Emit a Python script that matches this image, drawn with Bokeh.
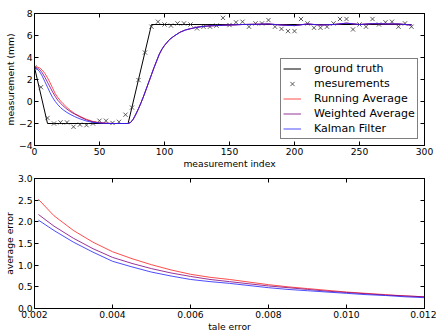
from bokeh.plotting import figure
from bokeh.layouts import column
from bokeh.models import (LinearAxis, FixedTicker, Legend, LegendItem,
                          NumeralTickFormatter, CustomJSTickFormatter)
from bokeh.embed import file_html
from bokeh.resources import INLINE

# ---------------- data: top panel ----------------
gt_idx = [0, 10, 72, 90, 290]
gt_val = [3.1, -2.0, -2.0, 7.0, 7.0]

meas_idx = [0, 5, 10, 15, 20, 25, 30, 35, 40, 45, 50, 55, 60, 65, 70, 75, 80, 85, 90,
            95, 100, 105, 110, 115, 120, 125, 130, 135, 140, 145, 150, 155, 160, 165,
            170, 175, 180, 185, 190, 195, 200, 205, 210, 215, 220, 225, 230, 235, 240,
            245, 250, 255, 260, 265, 270, 275, 280, 285, 290]
meas_val = [3.1, 1.3, -1.5, -2.0, -1.9, -1.9, -2.3, -2.1, -2.15, -2.0, -1.75, -1.75,
            -1.95, -1.85, -1.2, -0.55, 1.95, 4.45, 6.8, 7.25, 7.0, 6.9, 7.1, 7.1, 7.0,
            6.65, 6.8, 6.8, 6.9, 7.6, 6.95, 7.2, 7.25, 6.8, 7.1, 7.1, 7.4, 6.8, 6.6,
            6.4, 6.4, 7.5, 7.1, 6.7, 6.7, 6.8, 7.1, 7.5, 7.5, 6.55, 7.0, 6.8, 7.5, 7.0,
            7.2, 7.25, 6.8, 7.1, 6.8]

f_idx = [0, 2, 4, 6, 8, 10, 12, 14, 16, 18, 20, 22, 25, 28, 31, 35, 40, 45, 50, 55,
         60, 65, 70, 72, 74, 76, 78, 80, 82, 84, 86, 88, 90, 92, 94, 96, 98, 100, 104,
         108, 112, 116, 120, 125, 130, 135, 140, 145, 150, 160, 170, 180, 190, 200,
         210, 220, 230, 240, 250, 260, 270, 280, 290]
rise = [-2.0, -1.9, -1.6, -1.15, -0.65, -0.1, 0.5, 1.15, 1.8, 2.45, 3.1, 3.7, 4.3,
        4.75, 5.1, 5.65, 6.0, 6.3, 6.5, 6.62, 6.75, 6.83, 6.88, 6.9, 6.93, 6.95, 7.0,
        7.02, 7.05, 6.95, 6.9, 7.05, 6.95, 7.0, 7.12, 7.0, 7.08, 7.05, 7.05, 6.95]
running_avg = [3.1, 3.15, 3.05, 2.85, 2.55, 2.15, 1.7, 1.2, 0.7, 0.35, 0.05, -0.2,
               -0.55, -0.85, -1.1, -1.35, -1.62, -1.82, -1.92, -1.97, -2.0, -2.0,
               -2.0] + rise
weighted_avg = [3.1, 3.05, 2.9, 2.6, 2.2, 1.75, 1.3, 0.85, 0.45, 0.1, -0.15, -0.4,
                -0.7, -0.95, -1.15, -1.4, -1.68, -1.85, -1.95, -1.98, -2.0, -2.0,
                -2.0] + rise
kalman = [3.05, 2.95, 2.7, 2.3, 1.8, 1.3, 0.8, 0.35, 0.0, -0.3, -0.55, -0.75, -1.0,
          -1.2, -1.38, -1.58, -1.78, -1.9, -1.96, -1.99, -2.0, -2.0, -2.0] + rise

# ---------------- data: bottom panel ----------------
tale_err = [0.0021, 0.0025, 0.003, 0.0035, 0.004, 0.0045, 0.005, 0.0055, 0.006,
            0.0065, 0.007, 0.0075, 0.008, 0.0085, 0.009, 0.0095, 0.010, 0.0105,
            0.011, 0.0115, 0.012]
err_running = [2.52, 2.14, 1.80, 1.53, 1.31, 1.15, 1.01, 0.89, 0.79, 0.72, 0.67,
               0.61, 0.55, 0.50, 0.46, 0.42, 0.38, 0.35, 0.32, 0.29, 0.27]
err_weighted = [2.17, 1.90, 1.62, 1.38, 1.18, 1.04, 0.92, 0.82, 0.74, 0.67, 0.62,
                0.57, 0.52, 0.48, 0.44, 0.40, 0.37, 0.34, 0.31, 0.29, 0.27]
err_kalman = [2.04, 1.80, 1.53, 1.30, 1.09, 0.96, 0.84, 0.75, 0.67, 0.62, 0.58,
              0.53, 0.48, 0.44, 0.41, 0.38, 0.35, 0.32, 0.30, 0.27, 0.25]

top_xticks = [0, 50, 100, 150, 200, 250, 300]
top_yticks = [-4, -2, 0, 2, 4, 6, 8]
bot_xticks = [0.002, 0.004, 0.006, 0.008, 0.010, 0.012]
bot_yticks = [0.0, 0.5, 1.0, 1.5, 2.0, 2.5, 3.0]

RED, PURPLE, BLUE = "#ff2020", "#800080", "#2020ff"
FONT = "DejaVu Sans"
TICK_FS = "9.2px"


def style(p, xticks, yticks):
    p.grid.visible = False
    p.outline_line_color = "black"
    p.outline_line_width = 1
    p.background_fill_color = "white"
    p.border_fill_color = None
    xa = p.below[0]
    ya = p.left[0]
    xa.ticker = FixedTicker(ticks=xticks)
    ya.ticker = FixedTicker(ticks=yticks)
    blank = CustomJSTickFormatter(code="return ''")
    p.add_layout(LinearAxis(ticker=FixedTicker(ticks=yticks), formatter=blank), "right")
    p.add_layout(LinearAxis(ticker=FixedTicker(ticks=xticks), formatter=blank), "above")
    for ax in p.axis:
        ax.major_tick_in = 4
        ax.major_tick_out = 0
        ax.minor_tick_in = 0
        ax.minor_tick_out = 0
        ax.axis_line_color = "black"
        ax.major_tick_line_color = "black"
        ax.major_label_text_font = FONT
        ax.major_label_text_font_size = TICK_FS
        ax.major_label_text_color = "black"
        ax.major_label_standoff = 2
        ax.axis_label_text_font = FONT
        ax.axis_label_text_font_size = TICK_FS
        ax.axis_label_text_font_style = "normal"
        ax.axis_label_text_color = "black"
        ax.axis_label_standoff = 0
    return xa, ya


# ---------------- top figure ----------------
p1 = figure(frame_width=390, frame_height=132, x_range=(0, 300), y_range=(-4, 8),
            output_backend="svg", toolbar_location=None,
            min_border_left=26, min_border_right=12, min_border_top=13,
            min_border_bottom=0)
xa1, ya1 = style(p1, top_xticks, top_yticks)
xa1.axis_label = "measurement index"
ya1.axis_label = "measurement (mm)"
ya1.major_label_overrides = {-4: "\u22124", -2: "\u22122"}

r_gt = p1.line(gt_idx, gt_val, line_color="black", line_width=1)
r_meas = p1.scatter(meas_idx, meas_val, marker="x", size=6, line_color="#333333",
                    line_width=0.8)
r_run = p1.line(f_idx, running_avg, line_color=RED, line_width=1, line_alpha=0.8)
r_wgt = p1.line(f_idx, weighted_avg, line_color=PURPLE, line_width=1, line_alpha=0.8)
r_kal = p1.line(f_idx, kalman, line_color=BLUE, line_width=1, line_alpha=0.8)

legend = Legend(items=[
    LegendItem(label="ground truth", renderers=[r_gt]),
    LegendItem(label="mesurements", renderers=[r_meas]),
    LegendItem(label="Running Average", renderers=[r_run]),
    LegendItem(label="Weighted Average", renderers=[r_wgt]),
    LegendItem(label="Kalman Filter", renderers=[r_kal]),
], location=(246, 6))
legend.margin = 0
legend.padding = 2
legend.spacing = 0
legend.label_height = 15
legend.glyph_height = 15
legend.glyph_width = 18
legend.label_standoff = 13
legend.label_text_font = FONT
legend.label_text_font_size = "11px"
legend.label_text_color = "black"
legend.border_line_color = "black"
legend.border_line_width = 1
legend.background_fill_color = "white"
legend.background_fill_alpha = 1
p1.add_layout(legend, "center")

# ---------------- bottom figure ----------------
p2 = figure(frame_width=390, frame_height=130, x_range=(0.002, 0.012), y_range=(0, 3),
            output_backend="svg", toolbar_location=None,
            min_border_left=26, min_border_right=12, min_border_top=7,
            min_border_bottom=0)
xa2, ya2 = style(p2, bot_xticks, bot_yticks)
xa2.axis_label = "tale error"
ya2.axis_label = "average error"
xa2.formatter = NumeralTickFormatter(format="0.000")
ya2.formatter = NumeralTickFormatter(format="0.0")

p2.line(tale_err, err_running, line_color=RED, line_width=1, line_alpha=0.8)
p2.line(tale_err, err_weighted, line_color=PURPLE, line_width=1, line_alpha=0.8)
p2.line(tale_err, err_kalman, line_color=BLUE, line_width=1, line_alpha=0.8)

layout = column(p1, p2, spacing=0)
open("out.html", "w").write(file_html(layout, INLINE))
